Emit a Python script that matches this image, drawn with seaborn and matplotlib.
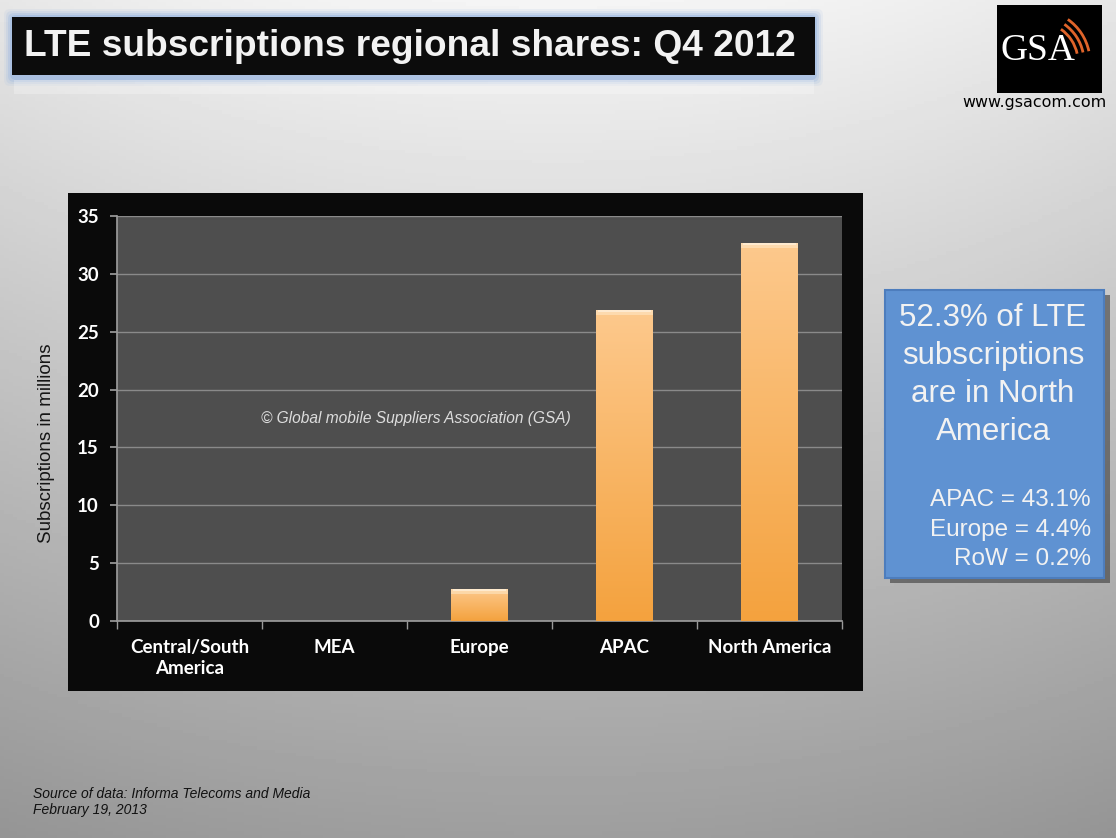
import numpy as np
import matplotlib.pyplot as plt
import matplotlib.patches as mpatches
from matplotlib.colors import LinearSegmentedColormap
import seaborn as sns

# data (millions of LTE subscriptions, Q4 2012)
regions = ['Central/South\nAmerica', 'MEA', 'Europe', 'APAC', 'North America']
subs = [0.04, 0.03, 2.8, 26.9, 32.7]
yticks = [0, 5, 10, 15, 20, 25, 30, 35]

title = 'LTE subscriptions regional shares: Q4 2012'
box_head = ['52.3% of LTE', 'subscriptions', 'are in North', 'America']
box_tail = ['APAC = 43.1%', 'Europe = 4.4%', 'RoW = 0.2%']
source_lines = ['Source of data: Informa Telecoms and Media', 'February 19, 2013']

sns.set_theme(style='dark')
plt.rcParams['font.family'] = ['Liberation Sans', 'DejaVu Sans']

W, H = 1116, 838
fig = plt.figure(figsize=(W / 100, H / 100), dpi=100)


def fx(px):
    return px / W


def fy(py):
    return 1 - py / H


# slide background: grey vertical gradient
bg = fig.add_axes([0, 0, 1, 1], zorder=-10)
grad = np.linspace(0.96, 0.62, 256).reshape(-1, 1)
side = 1 - 0.06 * (np.abs(np.linspace(-1, 1, 256)) ** 2)
bg.imshow(grad * side[None, :], cmap='gray', vmin=0, vmax=1, aspect='auto',
          extent=[0, W, H, 0])
bg.set_xlim(0, W)
bg.set_ylim(H, 0)
bg.axis('off')

# title box with blue glow
for i, a in enumerate([0.10, 0.16, 0.25, 0.4]):
    g = 8 - 2 * i
    bg.add_patch(mpatches.FancyBboxPatch((12 - g, 17 - g), 803 + 2 * g, 58 + 2 * g + 3,
                                         boxstyle='round,pad=0,rounding_size=6',
                                         fc='#8fb0e0', ec='none', alpha=a))
bg.add_patch(mpatches.Rectangle((12, 17), 803, 58, fc='#0c0c0c', ec='none'))
bg.text(24, 47, title, color='#f2f2f2', fontsize=26.7, fontweight='bold',
        va='center', ha='left')
# faint reflection band under the title
bg.add_patch(mpatches.Rectangle((14, 80), 800, 14, fc='white', ec='none', alpha=0.25))

# logo
bg.add_patch(mpatches.Rectangle((997, 5), 105, 88, fc='black', ec='none'))
bg.text(1038, 51, 'GSA', color='white', fontsize=27, family='Liberation Serif',
        ha='center', va='center')
for r in [40, 46, 52]:
    bg.add_patch(mpatches.Arc((1038, 62), 2 * r, 2 * r, theta1=-55, theta2=-12,
                              color='#e0642a', lw=2))
bg.text(1034, 102, 'www.gsacom.com', color='black', fontsize=11.4, ha='center',
        va='center', family='DejaVu Sans')

# black chart frame
bg.add_patch(mpatches.Rectangle((68, 193), 795, 498, fc='#0a0a0a', ec='none'))

# blue text box with shadow
bg.add_patch(mpatches.Rectangle((890, 295), 220, 288, fc='#3a3a3a', ec='none', alpha=0.6))
bg.add_patch(mpatches.Rectangle((885, 290), 219, 288, fc='#5f92d2', ec='#4d7dbd', lw=1.5))
for i, line in enumerate(box_head):
    bg.text(993, 318 + i * 38, line, color='#f2f2f2', fontsize=22.5, ha='center', va='center')
for i, line in enumerate(box_tail):
    bg.text(1091, 500 + i * 29.5, line, color='#f2f2f2', fontsize=17.5, ha='right', va='center')

# footer
for i, line in enumerate(source_lines):
    bg.text(33, 794 + i * 16, line, color='#111111', fontsize=10, style='italic',
            ha='left', va='center')

# y axis label sits outside the frame
bg.text(47, 443, 'Subscriptions in millions', color='#151515', fontsize=13.5,
        rotation=90, ha='center', va='center')

# the chart
ax = fig.add_axes([fx(117), fy(621), fx(842) - fx(117), fy(216) - fy(621)])
ax.set_facecolor('#4e4e4e')
sns.barplot(x=regions, y=subs, ax=ax, color='#f7a84a', width=0.39,
            saturation=1, edgecolor='none', zorder=3)

bar_grad = np.linspace(0, 1, 256).reshape(-1, 1)
orange = LinearSegmentedColormap.from_list('orange', ['#fdc98d', '#f4a23e'])
for p in list(ax.patches):
    x0, y0 = p.get_x(), p.get_y()
    w, h = p.get_width(), p.get_height()
    if h < 0.2:
        continue
    im = ax.imshow(bar_grad, cmap=orange, aspect='auto', zorder=4,
                   extent=[x0, x0 + w, y0, y0 + h])
    im.set_clip_path(p)
    # bevel highlight on the top edge
    ax.add_patch(mpatches.Rectangle((x0, y0 + h - 0.45), w, 0.45, fc='#fff2d8',
                                    ec='none', alpha=0.45, zorder=5))
    ax.add_patch(mpatches.Rectangle((x0 + 0.01, y0 + h - 0.22), w - 0.02, 0.22, fc='#fff6e6',
                                    ec='none', alpha=0.6, zorder=5))

ax.set_xlim(-0.5, len(regions) - 0.5)
ax.set_ylim(0, 35)
ax.set_yticks(yticks)
ax.grid(axis='y', color='#8a8a8a', lw=1, zorder=1)
ax.grid(axis='x', visible=False)
for s in ['top', 'right']:
    ax.spines[s].set_visible(False)
ax.spines['left'].set_color('#9a9a9a')
ax.spines['bottom'].set_color('#9a9a9a')

ax.set_xticks(np.arange(len(regions)))
ax.set_xticklabels(regions, linespacing=1.25)
ax.set_xticks(np.arange(-0.5, len(regions)), minor=True)
ax.tick_params(axis='x', which='major', length=0, pad=13, labelcolor='white',
               labelsize=13.5)
ax.tick_params(axis='x', which='minor', length=6, color='#9a9a9a', direction='out',
               bottom=True)
ax.tick_params(axis='y', length=5, color='#9a9a9a', direction='out', left=True,
               labelcolor='white', labelsize=13.5, pad=8)
for t in ax.get_xticklabels() + ax.get_yticklabels():
    t.set_fontweight('bold')
    t.set_family('Lato')
ax.set_xlabel('')
ax.set_ylabel('')

ax.text(0.412, 0.5, '\u00a9 Global mobile Suppliers Association (GSA)', transform=ax.transAxes,
        color='#dddddd', fontsize=11.2, style='italic', ha='center', va='center', zorder=6)

fig.savefig('out.png', dpi=100)
